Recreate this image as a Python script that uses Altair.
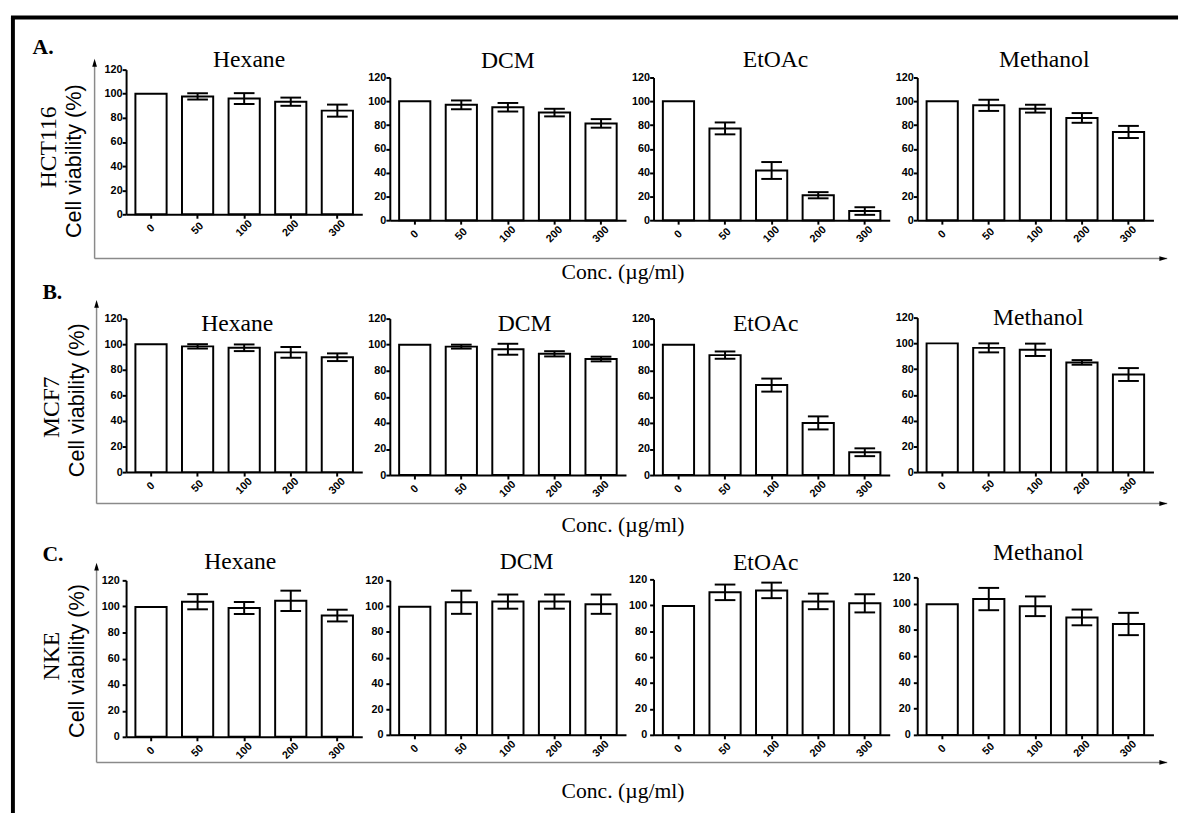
import altair as alt
import pandas as pd

concs = ["0", "50", "100", "200", "300"]
solvents = ["Hexane", "DCM", "EtOAc", "Methanol"]
cells = ["HCT116", "MCF7", "NKE"]
row_letters = ["A.", "B.", "C."]
y_label = "Cell viability (%)"
x_label = "Conc. (\u00b5g/ml)"
y_ticks = [0, 20, 40, 60, 80, 100, 120]

# HCT116
hct_hexane_mean = [100, 97.8, 96, 93.4, 86]
hct_hexane_sd = [0, 2.6, 4.5, 3.4, 5]
hct_dcm_mean = [100, 97, 95, 90.5, 81.4]
hct_dcm_sd = [0, 3.7, 3.6, 3.2, 3.6]
hct_etoac_mean = [100, 77.2, 41.8, 21, 7.7]
hct_etoac_sd = [0, 5, 7.1, 2.6, 3.2]
hct_methanol_mean = [100, 96.6, 93.8, 86, 74.2]
hct_methanol_sd = [0, 4.7, 3.3, 4.1, 5.1]
# MCF7
mcf_hexane_mean = [100, 98.3, 97.2, 93.6, 89.8]
mcf_hexane_sd = [0, 1.7, 2.6, 4.2, 3]
mcf_dcm_mean = [100, 98.5, 96.5, 93, 89]
mcf_dcm_sd = [0, 1.5, 4.2, 2, 1.8]
mcf_etoac_mean = [100, 92, 69, 40, 17.5]
mcf_etoac_sd = [0, 2.8, 5, 5, 3]
mcf_methanol_mean = [100, 96.5, 95, 85.2, 75.8]
mcf_methanol_sd = [0, 3.5, 4.8, 1.8, 5]
# NKE
nke_hexane_mean = [99.5, 103.6, 98.8, 104.3, 93]
nke_hexane_sd = [0, 5.8, 4.6, 7.8, 4.5]
nke_dcm_mean = [99.5, 103, 103.5, 103.5, 101.5]
nke_dcm_sd = [0, 9, 5.5, 5.5, 7.5]
nke_etoac_mean = [99.5, 110, 111.5, 103, 101.5]
nke_etoac_sd = [0, 6, 6, 6, 7]
nke_methanol_mean = [99.5, 103.5, 98, 89.5, 84.5]
nke_methanol_sd = [0, 8.5, 7.5, 6, 8.5]

series = {
    ("HCT116", "Hexane"): (hct_hexane_mean, hct_hexane_sd),
    ("HCT116", "DCM"): (hct_dcm_mean, hct_dcm_sd),
    ("HCT116", "EtOAc"): (hct_etoac_mean, hct_etoac_sd),
    ("HCT116", "Methanol"): (hct_methanol_mean, hct_methanol_sd),
    ("MCF7", "Hexane"): (mcf_hexane_mean, mcf_hexane_sd),
    ("MCF7", "DCM"): (mcf_dcm_mean, mcf_dcm_sd),
    ("MCF7", "EtOAc"): (mcf_etoac_mean, mcf_etoac_sd),
    ("MCF7", "Methanol"): (mcf_methanol_mean, mcf_methanol_sd),
    ("NKE", "Hexane"): (nke_hexane_mean, nke_hexane_sd),
    ("NKE", "DCM"): (nke_dcm_mean, nke_dcm_sd),
    ("NKE", "EtOAc"): (nke_etoac_mean, nke_etoac_sd),
    ("NKE", "Methanol"): (nke_methanol_mean, nke_methanol_sd),
}

rows = []
for (cell, solv), (m, s) in series.items():
    for c, mv, sv in zip(concs, m, s):
        rows.append({"cell": cell, "solvent": solv, "conc": c, "mean": mv, "sd": sv,
                     "lo": mv - sv, "hi": mv + sv})
df = pd.DataFrame(rows)

SERIF = "Liberation Serif"
SANS = "Liberation Sans"
one = pd.DataFrame({"k": [0]})
H = 165  # uniform cell height; plot ranges placed inside it

# layout per row (pixel geometry only)
row_cfg = [
    dict(ranges=[[147, 0], [153, 8], [153, 8], [153, 8]],
         tx=[125, 120, 124, 129], ty=[-3, -2, -3, -3], lpad=0),
    dict(ranges=[[156, 0], [159, 0], [159, 0], [156, -1]],
         tx=[113, 137, 114, 123], ty=[13, 13, 13, 6], lpad=0),
    dict(ranges=[[172, 13], [170, 13], [170, 12], [170, 10]],
         tx=[116, 139, 114, 123], ty=[1, 1, 2, -8], lpad=3),
]

deco_cfg = [
    dict(lx=-95, ly=-16, cx=-78, cy=79, vx=-53, vy=93, ax=-32, atop=-11, abot=192, clx=505, cly=213),
    dict(lx=-85, ly=-20, cx=-75, cy=90, vx=-50, vy=83, ax=-30, atop=-19, abot=188, clx=505, cly=217),
    dict(lx=-85, ly=-7, cx=-75, cy=90, vx=-50, vy=95, ax=-30, atop=-5, abot=198, clx=505, cly=234),
]


def panel(cell, solv, cfg, i):
    d = df[(df.cell == cell) & (df.solvent == solv)]
    rng = cfg["ranges"][i]
    xscale = alt.Scale(domain=concs, paddingInner=0.33, paddingOuter=0.2)
    xaxis = alt.Axis(title=None, labelAngle=315, labelAlign="center", labelBaseline="middle",
                     labelPadding=10, labelFont=SANS, labelFontWeight="bold", labelFontSize=11,
                     labelColor="black", domainColor="black", domainWidth=2, tickColor="black",
                     tickWidth=2, tickSize=4, grid=False, labelOverlap=False,
                     offset=rng[0] - H)
    yscale = alt.Scale(domain=[0, 120], range=rng, nice=False, zero=True)
    yaxis = alt.Axis(title=None, values=y_ticks, labelFont=SANS, labelFontWeight="bold",
                     labelFontSize=11, labelColor="black", labelPadding=cfg["lpad"],
                     domainColor="black", domainWidth=2, tickColor="black", tickWidth=2,
                     tickSize=4, grid=False)
    X = alt.X("conc:N", scale=xscale, axis=xaxis, sort=concs)
    bars = alt.Chart(d).mark_bar(fill="white", stroke="black", strokeWidth=2).encode(
        x=X, y=alt.Y("mean:Q", scale=yscale, axis=yaxis))
    e = alt.Chart(d).transform_filter("datum.sd > 0")
    stem = e.mark_rule(color="black", strokeWidth=2).encode(
        x=X, y=alt.Y("lo:Q", scale=yscale, axis=yaxis), y2="hi:Q")
    cap_hi = e.mark_tick(color="black", thickness=2, size=21, opacity=1).encode(
        x=X, y=alt.Y("hi:Q", scale=yscale, axis=yaxis))
    cap_lo = e.mark_tick(color="black", thickness=2, size=21, opacity=1).encode(
        x=X, y=alt.Y("lo:Q", scale=yscale, axis=yaxis))
    title = alt.Chart(pd.DataFrame({"t": [solv]})).mark_text(
        font=SERIF, fontSize=24, align="center", baseline="alphabetic", color="black").encode(
        x=alt.value(cfg["tx"][i]), y=alt.value(cfg["ty"][i]), text="t:N")
    return [bars, stem, cap_hi, cap_lo, title]


def rule(x, y, x2=None, y2=None, color="#8a8a8a", w=1.5):
    enc = dict(x=alt.value(x), y=alt.value(y))
    if x2 is not None:
        enc["x2"] = alt.value(x2)
    if y2 is not None:
        enc["y2"] = alt.value(y2)
    return alt.Chart(one).mark_rule(color=color, strokeWidth=w).encode(**enc)


def txt(s, x, y, **kw):
    return alt.Chart(pd.DataFrame({"t": [s]})).mark_text(color="black", **kw).encode(
        x=alt.value(x), y=alt.value(y), text="t:N")


def arrow(x, y, shape):
    return alt.Chart(one).mark_point(shape=shape, filled=True, color="black", size=64,
                                     opacity=1, strokeWidth=0).encode(
        x=alt.value(x), y=alt.value(y))


def decorations(r):
    c = deco_cfg[r]
    layers = [
        txt(row_letters[r], c["lx"], c["ly"], font=SERIF, fontSize=22, fontWeight="bold",
            align="left", baseline="alphabetic"),
        txt(cells[r], c["cx"], c["cy"], font=SERIF, fontSize=24, angle=270,
            align="center", baseline="middle"),
        txt(y_label, c["vx"], c["vy"], font=SANS, fontSize=22, angle=270,
            align="center", baseline="middle"),
        rule(c["ax"], c["atop"] + 4, y2=c["abot"]),
        rule(c["ax"], c["abot"], x2=1058),
        arrow(c["ax"], c["atop"] + 4, "M0,-1L0.6,1L-0.6,1Z"),
        arrow(1054, c["abot"], "M1,0L-1,-0.6L-1,0.6Z"),
        txt(x_label, c["clx"], c["cly"], font=SERIF, fontSize=22, align="center",
            baseline="alphabetic"),
    ]
    if r == 0:
        layers += [
            rule(-115, -53, y2=760, color="black", w=4),
            rule(-117, -53, x2=1069, color="black", w=4),
        ]
    return layers


panels = []
for r, cell in enumerate(cells):
    cfg = row_cfg[r]
    for i, solv in enumerate(solvents):
        layers = panel(cell, solv, cfg, i)
        if i == 0:
            layers += decorations(r)
        panels.append(alt.layer(*layers).properties(width=240, height=H))

chart = alt.concat(*panels, columns=4, spacing={"row": 88, "column": 28},
                   bounds="flush").properties(
    padding=1, background="white").configure_view(stroke=None)

chart.save("out.html", embed_options={"renderer": "svg", "actions": False})
